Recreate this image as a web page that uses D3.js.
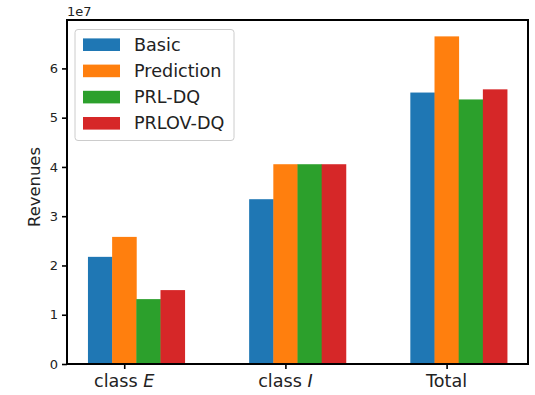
<!DOCTYPE html>
<html>
<head>
<meta charset="utf-8">
<script src="https://cdn.jsdelivr.net/npm/d3@7"></script>
<style>
  html, body { margin: 0; padding: 0; background: #fff; }
  svg { display: block; font-family: "DejaVu Sans", sans-serif; }
</style>
</head>
<body>
<svg id="chart" width="535" height="395"></svg>
<script>
// Revenue per customer class for each scheduling policy
const categories = ["class E", "class I", "Total"];
const seriesNames = ["Basic", "Prediction", "PRL-DQ", "PRLOV-DQ"];
const colors = ["#1f77b4", "#ff7f0e", "#2ca02c", "#d62728"];
const basic = [2.175e7, 3.345e7, 5.51e7];
const prediction = [2.58e7, 4.055e7, 6.65e7];
const prlDq = [1.317e7, 4.055e7, 5.37e7];
const prlovDq = [1.50e7, 4.055e7, 5.575e7];
const yTicks = [0, 1, 2, 3, 4, 5, 6];
const series = [basic, prediction, prlDq, prlovDq];

const barWidth = 0.15;
const margin = { left: 67, right: 528, top: 20, bottom: 364 };

const svg = d3.select("#chart");

const yMax = d3.max(series.flat()) * 1.05;
const y = d3.scaleLinear().domain([0, yMax]).range([margin.bottom, margin.top]);

// bars in a group sit at offsets -1..+2 bar widths around the category index
const xLo = -1.5 * barWidth, xHi = categories.length - 1 + 2.5 * barWidth;
const pad = (xHi - xLo) * 0.05;
const x = d3.scaleLinear().domain([xLo - pad, xHi + pad]).range([margin.left, margin.right]);

// bars
series.forEach((vals, si) => {
  svg.append("g").selectAll("rect").data(vals).join("rect")
    .attr("x", (d, i) => x(i + (si - 1) * barWidth - barWidth / 2))
    .attr("width", x(barWidth) - x(0) + 0.4)
    .attr("y", d => y(d))
    .attr("height", d => y(0) - y(d))
    .attr("fill", colors[si]);
});

// y axis
const yAxis = d3.axisLeft(y)
  .tickValues(yTicks.map(t => t * 1e7))
  .tickFormat(d => d3.format("d")(d / 1e7))
  .tickSize(5).tickPadding(4);
const gy = svg.append("g").attr("transform", `translate(${margin.left},0)`).call(yAxis);
gy.select(".domain").remove();
gy.selectAll(".tick line").attr("stroke", "#000").attr("stroke-width", 1.6);
gy.selectAll(".tick text").attr("font-size", 13).attr("fill", "#222")
  .attr("font-family", "DejaVu Sans, sans-serif");

// x axis
const xAxis = d3.axisBottom(x)
  .tickValues(d3.range(categories.length))
  .tickFormat("")
  .tickSize(5);
const gx = svg.append("g").attr("transform", `translate(0,${margin.bottom})`).call(xAxis);
gx.select(".domain").remove();
gx.selectAll(".tick line").attr("stroke", "#000").attr("stroke-width", 1.6);

// category labels, class letter in italics
categories.forEach((c, i) => {
  const t = svg.append("text")
    .attr("x", x(i)).attr("y", 387.3)
    .attr("text-anchor", "middle")
    .attr("font-size", 17.6).attr("fill", "#222");
  const parts = c.split(" ");
  if (parts[0] === "class") {
    t.append("tspan").text("class ");
    t.append("tspan").attr("font-style", "italic").text(parts[1]);
  } else {
    t.text(c);
  }
});

// frame
svg.append("rect")
  .attr("x", margin.left).attr("y", margin.top)
  .attr("width", margin.right - margin.left).attr("height", margin.bottom - margin.top)
  .attr("fill", "none").attr("stroke", "#000").attr("stroke-width", 2);

// offset label
svg.append("text").attr("x", margin.left).attr("y", 16)
  .attr("font-size", 13).attr("fill", "#222").text("1e7");

// y label
svg.append("text")
  .attr("transform", `translate(40,${(margin.top + margin.bottom) / 2 - 5}) rotate(-90)`)
  .attr("text-anchor", "middle").attr("font-size", 16.4).attr("fill", "#222")
  .text("Revenues");

// legend
const lg = svg.append("g").attr("transform", "translate(75,29.5)");
lg.append("rect").attr("width", 159).attr("height", 111).attr("rx", 3)
  .attr("fill", "#fff").attr("fill-opacity", 0.8)
  .attr("stroke", "#ccc").attr("stroke-width", 1);
seriesNames.forEach((name, i) => {
  const cy = 15.2 + i * 26.2;
  lg.append("rect").attr("x", 8).attr("y", cy - 6.3).attr("width", 37).attr("height", 12.6)
    .attr("fill", colors[i]);
  lg.append("text").attr("x", 59).attr("y", cy + 6)
    .attr("font-size", 17.6).attr("fill", "#222").text(name);
});
</script>
</body>
</html>
